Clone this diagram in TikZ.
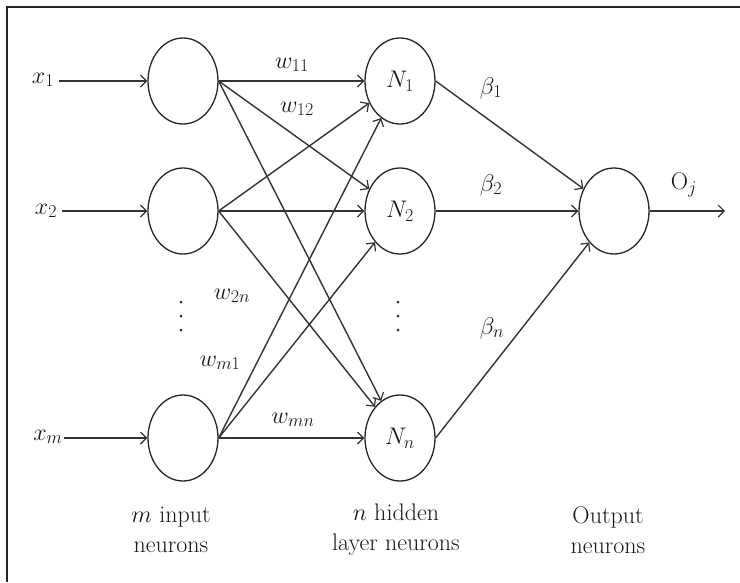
\RequirePackage{fix-cm}
\documentclass[tikz,border=0pt]{standalone}
\usetikzlibrary{arrows.meta,shapes.geometric}
\DeclareMathSizes{24}{24}{18}{13}
\begin{document}
\begin{tikzpicture}[x=1pt,y=-1pt,
  every node/.style={font=\fontsize{24}{30}\selectfont, text=black!90},
  neuron/.style={draw=black!85, line width=1.3pt, ellipse, minimum width=70pt, minimum height=86pt, inner sep=0pt},
  conn/.style={draw=black!80, line width=1.4pt, -{Straight Barb[length=6pt,width=12pt,line width=1.2pt]}},
  lbl/.style={inner sep=1pt},
  caption/.style={align=center, font=\fontsize{24}{30}\selectfont}
]
\useasboundingbox (0,0) rectangle (740,582);
\draw[line width=2pt, black!85] (7,582) -- (7,7) -- (740,7);

% neurons
\node[neuron] (i1) at (183,81) {};
\node[neuron] (i2) at (183,211) {};
\node[neuron] (im) at (183,438) {};
\node[neuron] (h1) at (400,81) {$N_1$};
\node[neuron] (h2) at (400,211) {$N_2$};
\node[neuron] (hn) at (400,438) {$N_n$};
\node[neuron] (o) at (614,211) {};

% inputs
\node[lbl, inner sep=5pt] (x1) at (43,80) {$x_1$};
\node[lbl, inner sep=5pt] (x2) at (46,211) {$x_2$};
\node[lbl, inner sep=1pt] (xm) at (48,437) {$x_m$};
\draw[conn] (x1.east |- i1) -- (i1);
\draw[conn] (x2.east |- i2) -- (i2);
\draw[conn] (xm.east |- im) -- (im);

% input to hidden
\foreach \s in {i1,i2,im}{
  \foreach \t in {h1,h2,hn}{
    \draw[conn] (\s.east) -- (\t);
  }
}

% hidden to output
\draw[conn] (h1.east) -- (o);
\draw[conn] (h2.east) -- (o);
\draw[conn] (hn.east) -- (o);
\coordinate (oend) at (725,211);
\draw[conn] (o.east) -- (oend);

% dots
\foreach \y in {302,316,330}{
  \fill[black!85] (181,\y) circle (1.5);
  \fill[black!85] (398,\y) circle (1.5);
}

% weight labels
\node[lbl] (w11) at (292,65) {$w_{11}$};
\node[lbl] (w12) at (297,109) {$w_{12}$};
\node[lbl] (w2n) at (232,296) {$w_{2n}$};
\node[lbl] (wm1) at (220,363) {$w_{m1}$};
\node[lbl] (wmn) at (293,420) {$w_{mn}$};
\node[lbl] (b1) at (491,88) {$\beta_1$};
\node[lbl] (b2) at (491,185) {$\beta_2$};
\node[lbl] (bn) at (492,328) {$\beta_n$};
\node[lbl] (oj) at (684,185) {$\mathrm{O}_j$};

% captions
\node[caption] (c1) at (171,530) {$m$ input\\neurons};
\node[caption] (c2) at (396,530) {$n$ hidden\\layer neurons};
\node[caption] (c3) at (608,530) {Output\\neurons};
\end{tikzpicture}
\end{document}
